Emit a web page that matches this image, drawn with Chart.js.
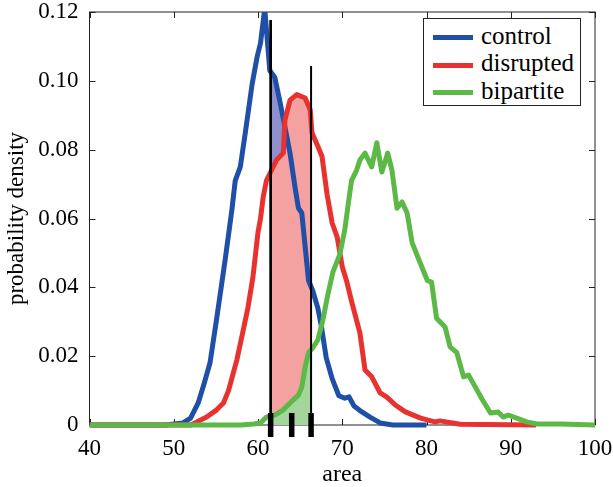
<!DOCTYPE html>
<html>
<head>
<meta charset="utf-8">
<script src="https://cdn.jsdelivr.net/npm/chart.js@4.4.1/dist/chart.umd.min.js"></script>
<style>
  body { margin: 0; background: #fff; }
  #wrap { position: relative; width: 613px; height: 487px; }
  #legend {
    position: absolute; left: 423px; top: 18px; width: 156px; height: 86px;
    border: 1px solid #222; background: #fff;
    font-family: "Liberation Serif", "Times New Roman", Times, serif; font-size: 25px; color: #000;
  }
  #legend div { position: absolute; left: 9px; height: 27px; line-height: 27px; white-space: nowrap; }
  #legend span.swatch { display: inline-block; width: 40px; height: 5px; vertical-align: middle; margin-right: 8px; }
</style>
</head>
<body>
<div id="wrap">
  <canvas id="myChart" width="613" height="487"></canvas>
  <div id="legend"></div>
</div>
<script>
// values
var seriesNames = ["control", "disrupted", "bipartite"];

var controlX = [40, 49, 50, 51.1, 52.0, 52.9, 53.6, 54.3, 55.1, 56.1, 56.9, 57.3, 57.9, 58.2, 58.5, 59.3, 59.9, 60.3, 60.8,
  61.2, 61.4, 62.0, 62.6, 63.2, 63.8, 64.4, 64.8, 65.2, 65.6, 66.0, 66.5, 67.1, 67.5, 68.1, 68.8, 69.6, 70.3, 70.8,
  71.4, 72.1, 73.3, 74.5, 76, 80];
var controlY = [0, 0, 0.0003, 0.0006, 0.002, 0.0064, 0.012, 0.018, 0.031, 0.048, 0.0625, 0.071, 0.075, 0.080, 0.085, 0.099, 0.107, 0.111, 0.121,
  0.109, 0.103, 0.101, 0.094, 0.0866, 0.079, 0.069, 0.063, 0.0616, 0.0517, 0.042, 0.039, 0.034, 0.029, 0.0195, 0.0135, 0.0085, 0.0078, 0.0082,
  0.0055, 0.0042, 0.0023, 0.0006, 0, 0];

var disruptedX = [40, 52.0, 52.5, 53.9, 55.1, 55.9, 56.5, 57.5, 58.2, 58.8, 59.4, 60.0, 60.3, 60.6, 61.0, 61.4, 62.2, 63.0, 63.2,
  63.8, 64.6, 65.6, 66.2, 66.4, 67.1, 67.6, 68.2, 68.8, 69.4, 70.0, 70.5, 71.1, 72.1, 72.7, 73.5, 74.5, 75.3, 76.3,
  77.5, 79.3, 81.0, 81.6, 84, 93];
var disruptedY = [0, 0, 0.0006, 0.0023, 0.0044, 0.0064, 0.010, 0.019, 0.027, 0.034, 0.043, 0.056, 0.060, 0.066, 0.071, 0.073, 0.077, 0.079, 0.0886,
  0.0944, 0.096, 0.095, 0.0915, 0.085, 0.081, 0.078, 0.067, 0.0587, 0.0546, 0.046, 0.042, 0.036, 0.0267, 0.016, 0.014, 0.0093, 0.0081, 0.0058,
  0.0038, 0.002, 0.0009, 0.0012, 0.0002, 0];

var bipartiteX = [40, 58, 59.5, 60.3, 61.0, 62.0, 63.0, 63.8, 64.8, 65.2, 65.6, 66.0, 66.5, 67.1, 67.7, 68.3, 68.9, 69.7, 70.3,
  70.7, 71.1, 71.7, 72.1, 72.7, 73.5, 74.1, 74.7, 75.4, 75.9, 76.5, 77.1, 77.7, 78.3, 79.1, 80.1, 80.6, 81.2, 82.2,
  82.8, 83.6, 84.4, 85.0, 85.8, 86.6, 87.6, 88.5, 89.1, 89.7, 90.7, 91.9, 93.1, 95.9, 100];
var bipartiteY = [0, 0, 0.0003, 0.0006, 0.0023, 0.0029, 0.0044, 0.0064, 0.0087, 0.011, 0.0169, 0.021, 0.0224, 0.0247, 0.0305, 0.038, 0.0445, 0.0495, 0.0567,
  0.064, 0.071, 0.074, 0.077, 0.079, 0.075, 0.082, 0.0735, 0.079, 0.074, 0.063, 0.0648, 0.0616, 0.0529, 0.048, 0.042, 0.0415, 0.031, 0.0285,
  0.0227, 0.021, 0.014, 0.0145, 0.011, 0.0075, 0.0035, 0.0038, 0.0023, 0.0029, 0.002, 0.0009, 0.0003, 0.0003, 0];

var shadeRange = [61.5, 66.3];      // shaded interval
var lineX = [61.5, 66.3];           // vertical black lines
var lineTop = [0.1177, 0.1043];
var markerX = [61.5, 64.0, 66.3];   // thick marks on the axis

var xTicks = [40, 50, 60, 70, 80, 90, 100];
var yTicks = [0, 0.02, 0.04, 0.06, 0.08, 0.10, 0.12];

var lineColors = ["#1f4fa6", "#e8322f", "#5cb947"];
var fillColors = ["#8d90cd", "#f3a1a1", "#a3d59c"];

function pts(xs, ys) {
  return xs.map(function (x, i) { return { x: x, y: ys[i] }; });
}

Chart.defaults.font.family = "'Liberation Serif', 'Times New Roman', Times, serif";
Chart.defaults.color = "#000";

// box, inward ticks and clipping of the shaded fills
var boxPlugin = {
  id: "box",
  beforeDatasetsDraw: function (chart) {
    var ctx = chart.ctx, a = chart.chartArea, xs = chart.scales.x, ys = chart.scales.y;
    ctx.save();
    ctx.strokeStyle = "#222";
    ctx.lineWidth = 1;
    ctx.strokeRect(a.left, a.top, a.right - a.left, a.bottom - a.top);
    ctx.beginPath();
    xTicks.forEach(function (v) {
      var p = Math.round(xs.getPixelForValue(v)) + 0.5;
      ctx.moveTo(p, a.bottom); ctx.lineTo(p, a.bottom - 6);
      ctx.moveTo(p, a.top); ctx.lineTo(p, a.top + 6);
    });
    yTicks.forEach(function (v) {
      var p = Math.round(ys.getPixelForValue(v)) + 0.5;
      ctx.moveTo(a.left, p); ctx.lineTo(a.left + 6, p);
      ctx.moveTo(a.right, p); ctx.lineTo(a.right - 6, p);
    });
    ctx.stroke();
    ctx.restore();
    // clip the fills to the shaded interval
    var l = xs.getPixelForValue(shadeRange[0]), r = xs.getPixelForValue(shadeRange[1]);
    ctx.save();
    ctx.beginPath();
    ctx.rect(l, a.top, r - l, a.bottom - a.top);
    ctx.clip();
  },
  afterDatasetDraw: function (chart, args) {
    if (args.meta._dataset.lastFill) chart.ctx.restore();
  }
};

function noPad(s) {
  s.paddingLeft = 0; s.paddingRight = 0; s.paddingTop = 0; s.paddingBottom = 0;
}

var ctx = document.getElementById("myChart").getContext("2d");
var datasets = [];

// shaded fills (drawn first: highest order)
for (var i = 0; i < 3; i++) {
  var xsArr = [controlX, disruptedX, bipartiteX][i];
  var ysArr = [controlY, disruptedY, bipartiteY][i];
  datasets.push({
    data: pts(xsArr, ysArr),
    borderWidth: 0,
    borderColor: "rgba(0,0,0,0)",
    backgroundColor: fillColors[i],
    fill: "origin",
    pointRadius: 0,
    order: 20 - i,
    lastFill: i === 2
  });
}
// curves
var curveData = [pts(controlX, controlY), pts(disruptedX, disruptedY), pts(bipartiteX, bipartiteY)];
for (var j = 0; j < 3; j++) {
  datasets.push({
    label: seriesNames[j],
    data: curveData[j],
    borderColor: lineColors[j],
    borderWidth: 5,
    borderJoinStyle: "round",
    fill: false,
    pointRadius: 0,
    order: 10 - j,
    clip: { left: 0, top: 0, right: 0, bottom: 4 }
  });
}
// vertical lines
for (var k = 0; k < lineX.length; k++) {
  datasets.push({
    data: [{ x: lineX[k], y: 0 }, { x: lineX[k], y: lineTop[k] }],
    borderColor: "#000",
    borderWidth: k === 0 ? 2.7 : 2,
    fill: false,
    pointRadius: 0,
    order: 3
  });
}
// thick marks
datasets.push({
  type: "scatter",
  data: markerX.map(function (x) { return { x: x, y: 0 }; }),
  pointStyle: "line",
  rotation: 90,
  pointRadius: 12,
  borderWidth: 5.5,
  borderColor: "#000",
  backgroundColor: "#000",
  clip: false,
  order: 1
});

var chart = new Chart(ctx, {
  type: "line",
  data: { datasets: datasets },
  plugins: [boxPlugin],
  options: {
    responsive: false,
    animation: false,
    events: [],
    layout: { padding: { top: 12, right: 18, left: 0, bottom: 0 }, autoPadding: false },
    plugins: { legend: { display: false }, tooltip: { enabled: false } },
    scales: {
      x: {
        type: "linear", min: 40, max: 100,
        grid: { display: false, drawTicks: false },
        border: { display: false },
        afterBuildTicks: function (s) { s.ticks = xTicks.map(function (v) { return { value: v }; }); },
        ticks: { padding: 10, font: { size: 23 }, maxRotation: 0 },
        title: { display: true, text: "area", font: { size: 24 }, padding: { top: 0, bottom: -2 } },
        afterFit: function (s) { s.height = 62; noPad(s); }
      },
      y: {
        min: 0, max: 0.12,
        grid: { display: false, drawTicks: false },
        border: { display: false },
        afterBuildTicks: function (s) { s.ticks = yTicks.map(function (v) { return { value: v }; }); },
        ticks: {
          padding: 11, font: { size: 23 },
          callback: function (v) { return v === 0 ? "0" : v.toFixed(2); }
        },
        title: { display: true, text: "probability density", font: { size: 23 }, padding: { top: 3, bottom: 0 } },
        afterFit: function (s) { s.width = 89.5; noPad(s); }
      }
    }
  }
});

// html legend
var legendBox = document.getElementById("legend");
seriesNames.forEach(function (name, i) {
  var row = document.createElement("div");
  row.style.top = (2.5 + i * 27.5) + "px";
  row.innerHTML = '<span class="swatch" style="background:' + lineColors[i] + '"></span>' + name;
  legendBox.appendChild(row);
});
</script>
</body>
</html>
